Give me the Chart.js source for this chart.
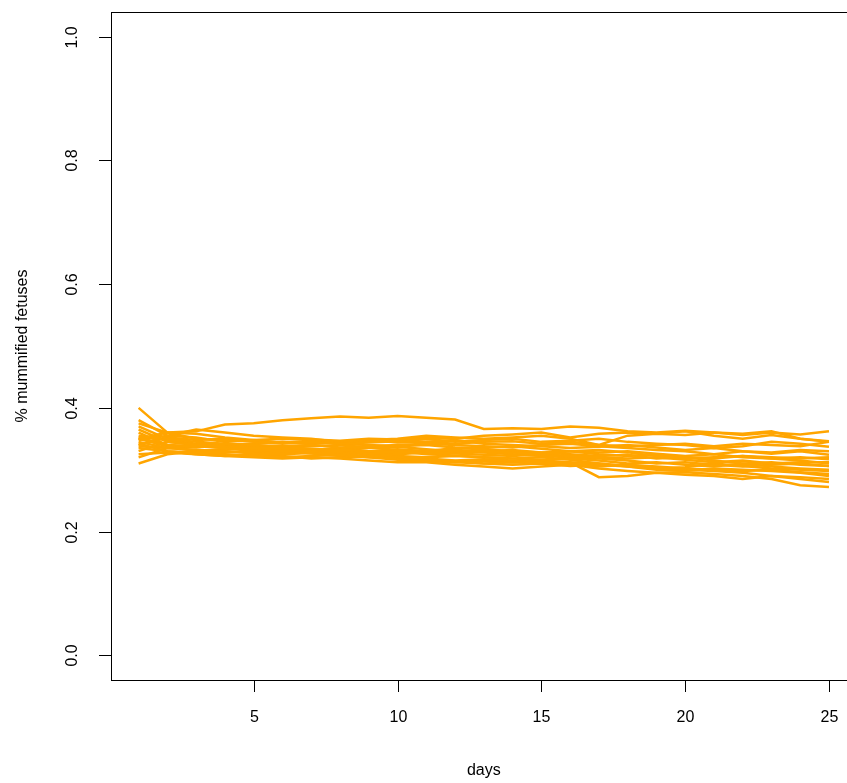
<!DOCTYPE html>
<html>
<head>
<meta charset="utf-8">
<script src="https://cdn.jsdelivr.net/npm/chart.js"></script>
<style>
  html, body { margin: 0; padding: 0; background: #fff; overflow: hidden; }
</style>
</head>
<body>
<canvas id="chart" width="847" height="783"></canvas>
<script>
// days on the x axis
const days = [1, 2, 3, 4, 5, 6, 7, 8, 9, 10, 11, 12, 13, 14, 15, 16, 17, 18, 19, 20, 21, 22, 23, 24, 25];
const xTicks = [5, 10, 15, 20, 25];
const yTicks = [0.0, 0.2, 0.4, 0.6, 0.8, 1.0];

// one run per line
const run01 = [0.35, 0.36, 0.362, 0.373, 0.375, 0.38, 0.383, 0.386, 0.384, 0.387, 0.384, 0.381, 0.366, 0.367, 0.366, 0.37, 0.368, 0.362, 0.36, 0.363, 0.36, 0.356, 0.36, 0.357, 0.362];
const run02 = [0.40, 0.36, 0.358, 0.352, 0.348, 0.35, 0.349, 0.347, 0.35, 0.349, 0.352, 0.35, 0.355, 0.357, 0.36, 0.352, 0.358, 0.36, 0.358, 0.362, 0.355, 0.35, 0.356, 0.35, 0.346];
const run03 = [0.38, 0.355, 0.365, 0.36, 0.355, 0.352, 0.35, 0.345, 0.348, 0.35, 0.355, 0.352, 0.35, 0.352, 0.355, 0.35, 0.34, 0.355, 0.358, 0.356, 0.36, 0.358, 0.362, 0.35, 0.345];
const run04 = [0.375, 0.36, 0.35, 0.348, 0.345, 0.342, 0.345, 0.342, 0.344, 0.346, 0.35, 0.345, 0.348, 0.35, 0.345, 0.347, 0.35, 0.345, 0.342, 0.34, 0.335, 0.338, 0.345, 0.342, 0.337];
const run05 = [0.37, 0.35, 0.345, 0.342, 0.34, 0.338, 0.34, 0.336, 0.338, 0.34, 0.342, 0.34, 0.338, 0.336, 0.34, 0.342, 0.338, 0.335, 0.332, 0.33, 0.325, 0.33, 0.326, 0.33, 0.324];
const run06 = [0.365, 0.345, 0.34, 0.338, 0.335, 0.336, 0.334, 0.332, 0.33, 0.328, 0.33, 0.332, 0.33, 0.328, 0.325, 0.33, 0.332, 0.328, 0.322, 0.318, 0.32, 0.322, 0.318, 0.32, 0.317];
const run07 = [0.36, 0.34, 0.338, 0.335, 0.332, 0.33, 0.332, 0.33, 0.327, 0.325, 0.328, 0.326, 0.324, 0.322, 0.325, 0.322, 0.32, 0.318, 0.32, 0.316, 0.312, 0.315, 0.31, 0.312, 0.312];
const run08 = [0.355, 0.348, 0.342, 0.34, 0.338, 0.335, 0.338, 0.34, 0.336, 0.332, 0.33, 0.328, 0.33, 0.332, 0.328, 0.325, 0.322, 0.324, 0.318, 0.32, 0.315, 0.31, 0.312, 0.308, 0.306];
const run09 = [0.35, 0.338, 0.33, 0.328, 0.33, 0.332, 0.33, 0.328, 0.325, 0.322, 0.32, 0.322, 0.32, 0.318, 0.316, 0.318, 0.315, 0.31, 0.312, 0.308, 0.305, 0.31, 0.305, 0.302, 0.30];
const run10 = [0.345, 0.335, 0.332, 0.33, 0.326, 0.325, 0.327, 0.325, 0.322, 0.32, 0.318, 0.315, 0.317, 0.315, 0.312, 0.31, 0.305, 0.308, 0.305, 0.302, 0.30, 0.298, 0.30, 0.296, 0.293];
const run11 = [0.34, 0.352, 0.348, 0.35, 0.346, 0.344, 0.342, 0.345, 0.348, 0.344, 0.345, 0.348, 0.342, 0.34, 0.338, 0.335, 0.337, 0.34, 0.336, 0.332, 0.335, 0.33, 0.328, 0.332, 0.33];
const run12 = [0.335, 0.33, 0.328, 0.325, 0.322, 0.32, 0.322, 0.324, 0.32, 0.318, 0.316, 0.314, 0.31, 0.312, 0.31, 0.312, 0.288, 0.29, 0.295, 0.292, 0.29, 0.285, 0.29, 0.288, 0.285];
const run13 = [0.33, 0.345, 0.34, 0.335, 0.33, 0.328, 0.33, 0.326, 0.328, 0.33, 0.325, 0.323, 0.32, 0.318, 0.32, 0.316, 0.31, 0.305, 0.302, 0.30, 0.298, 0.295, 0.29, 0.285, 0.28];
const run14 = [0.325, 0.328, 0.325, 0.322, 0.32, 0.318, 0.32, 0.318, 0.315, 0.312, 0.312, 0.308, 0.305, 0.302, 0.305, 0.308, 0.302, 0.298, 0.295, 0.296, 0.293, 0.29, 0.285, 0.275, 0.272];
const run15 = [0.32, 0.335, 0.332, 0.33, 0.328, 0.33, 0.326, 0.322, 0.32, 0.316, 0.315, 0.312, 0.31, 0.308, 0.31, 0.306, 0.308, 0.305, 0.30, 0.298, 0.302, 0.30, 0.298, 0.295, 0.29];
const run16 = [0.31, 0.325, 0.33, 0.333, 0.335, 0.33, 0.332, 0.335, 0.33, 0.333, 0.33, 0.335, 0.333, 0.33, 0.328, 0.33, 0.325, 0.322, 0.325, 0.32, 0.318, 0.322, 0.32, 0.318, 0.32];
const run17 = [0.352, 0.34, 0.336, 0.34, 0.342, 0.345, 0.342, 0.344, 0.346, 0.348, 0.345, 0.342, 0.345, 0.346, 0.342, 0.345, 0.34, 0.338, 0.34, 0.342, 0.338, 0.342, 0.34, 0.338, 0.345];
const run18 = [0.342, 0.33, 0.325, 0.322, 0.325, 0.322, 0.318, 0.32, 0.322, 0.318, 0.314, 0.312, 0.315, 0.312, 0.315, 0.312, 0.31, 0.306, 0.302, 0.304, 0.31, 0.306, 0.302, 0.30, 0.298];
const run19 = [0.348, 0.355, 0.352, 0.345, 0.348, 0.344, 0.347, 0.342, 0.34, 0.338, 0.34, 0.336, 0.335, 0.338, 0.334, 0.33, 0.328, 0.33, 0.326, 0.322, 0.325, 0.32, 0.318, 0.315, 0.31];
const run20 = [0.338, 0.335, 0.338, 0.336, 0.333, 0.335, 0.33, 0.333, 0.335, 0.337, 0.333, 0.33, 0.328, 0.325, 0.322, 0.32, 0.318, 0.315, 0.31, 0.312, 0.308, 0.305, 0.308, 0.31, 0.306];

const runs = [run01, run02, run03, run04, run05, run06, run07, run08, run09, run10,
              run11, run12, run13, run14, run15, run16, run17, run18, run19, run20];

const FONT = "16px 'Liberation Sans', Arial, sans-serif";

// R style box (right side runs off the page), ticks and labels from the scales
const rAxes = {
  id: "rAxes",
  afterDraw(chart) {
    const { ctx, chartArea: a, scales: { x, y } } = chart;
    const L = Math.round(a.left), T = Math.round(a.top), B = Math.round(a.bottom);
    ctx.save();
    ctx.fillStyle = "#000";
    // top, left and bottom edges of the box as 1px bars
    ctx.fillRect(L, T, chart.width - L, 1);
    ctx.fillRect(L, T, 1, B - T + 1);
    ctx.fillRect(L, B, chart.width - L, 1);

    ctx.font = FONT;
    ctx.textAlign = "center";
    ctx.textBaseline = "middle";

    // x axis
    xTicks.forEach(v => {
      const px = Math.round(x.getPixelForValue(v));
      ctx.fillRect(px, B, 1, 12);
      ctx.fillText(String(v), px + 0.5, B + 38);
    });

    // y axis
    yTicks.forEach(v => {
      const py = Math.round(y.getPixelForValue(v));
      ctx.fillRect(L - 12, py, 12, 1);
      ctx.save();
      ctx.translate(L - 38.5, py + 0.5);
      ctx.rotate(-Math.PI / 2);
      ctx.fillText(v.toFixed(1), 0, 0);
      ctx.restore();
    });

    // titles (x title centred on the full plot region, as R does)
    const midX = (x.getPixelForValue(0.04) + x.getPixelForValue(25.96)) / 2;
    ctx.fillText("days", midX, B + 91);
    ctx.save();
    ctx.translate(L - 88.5, (a.top + a.bottom) / 2);
    ctx.rotate(-Math.PI / 2);
    ctx.fillText("% mummified fetuses", 0, 0);
    ctx.restore();
    ctx.restore();
  }
};

new Chart(document.getElementById("chart"), {
  type: "line",
  data: {
    labels: days,
    datasets: runs.map((r, i) => ({
      label: "run " + (i + 1),
      data: r.map((v, j) => ({ x: days[j], y: v })),
      borderColor: "#FFA500",
      backgroundColor: "#FFA500",
      borderWidth: 2.5,
      pointRadius: 0,
      tension: 0,
      fill: false
    }))
  },
  options: {
    responsive: false,
    animation: false,
    layout: { padding: { left: 111, right: 0, top: 12, bottom: 103 } },
    scales: {
      x: { type: "linear", min: 0.04, max: 25.626, display: false },
      y: { type: "linear", min: -0.04, max: 1.04, display: false }
    },
    plugins: {
      legend: { display: false },
      tooltip: { enabled: false }
    }
  },
  plugins: [rAxes]
});
</script>
</body>
</html>
